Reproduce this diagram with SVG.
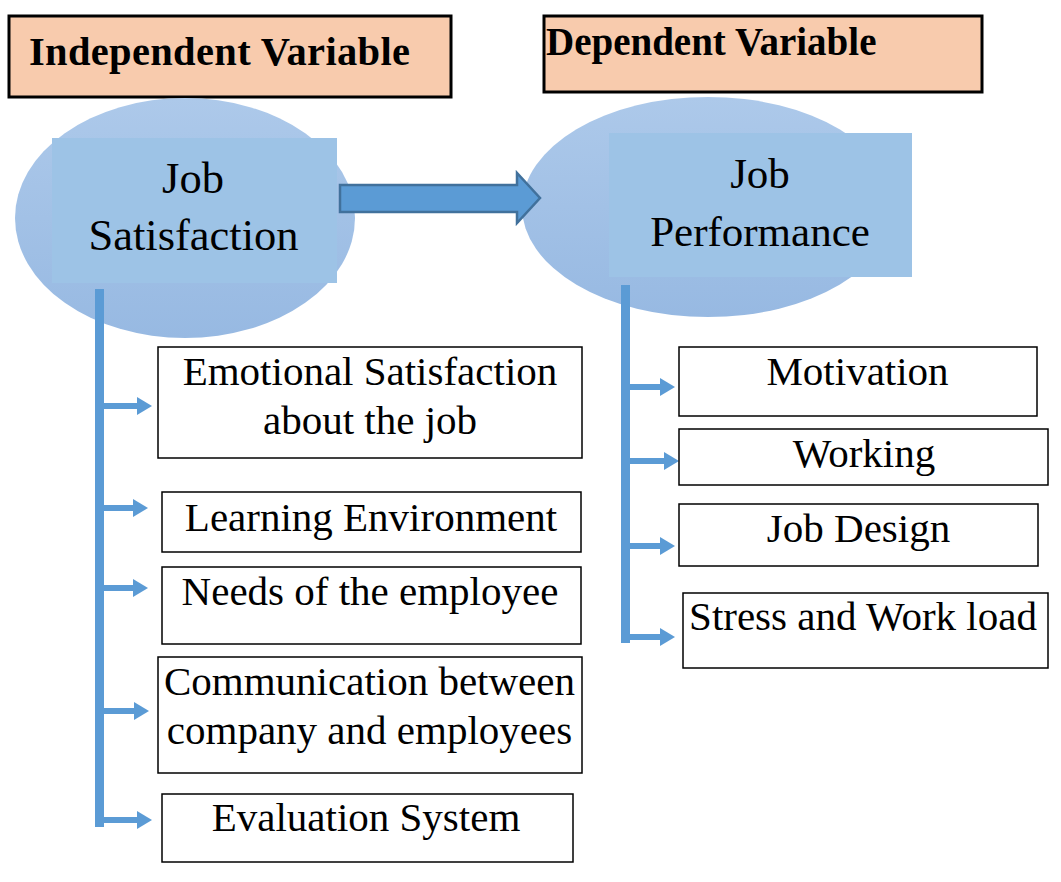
<svg xmlns="http://www.w3.org/2000/svg" width="1061" height="882" viewBox="0 0 1061 882">
<defs>
<linearGradient id="ellGrad" x1="0" y1="0" x2="0" y2="1">
<stop offset="0" stop-color="#ADC9EA"/>
<stop offset="1" stop-color="#97B9E2"/>
</linearGradient>
<marker id="head" viewBox="0 0 15 20" refX="0" refY="10" markerWidth="15" markerHeight="20" markerUnits="userSpaceOnUse" orient="auto">
<path d="M0,1 L15,10 L0,19 Z" fill="#5B9BD5"/>
</marker>
</defs>
<style>
.hdr{fill:#F8CBAD;stroke:#000;stroke-width:3}
.hdrt{font-family:"Liberation Serif","Times New Roman",serif;font-weight:bold;fill:#000}
.ell{fill:url(#ellGrad)}
.core{fill:#9DC3E6}
.coret{font-family:"Liberation Serif","Times New Roman",serif;fill:#000;text-anchor:middle}
.box{fill:#fff;stroke:#000;stroke-width:1.5}
.boxt{font-family:"Liberation Serif","Times New Roman",serif;font-size:41px;fill:#000;text-anchor:middle}
.bar{fill:#5B9BD5}
.br{stroke:#5B9BD5;stroke-width:6;fill:none;marker-end:url(#head)}
</style>
<rect width="1061" height="882" fill="#fff"/>

<g id="header-independent">
<rect class="hdr" x="9" y="16" width="442" height="81"/>
<text class="hdrt" x="29" y="65" font-size="40.5" textLength="381" lengthAdjust="spacing">Independent Variable</text>
</g>
<g id="header-dependent">
<rect class="hdr" x="544" y="16" width="438" height="76"/>
<text class="hdrt" x="546" y="55" font-size="39">Dependent Variable</text>
</g>

<g id="job-satisfaction">
<ellipse class="ell" cx="185" cy="218" rx="170" ry="120"/>
<rect class="core" x="52" y="138" width="285" height="145"/>
<text class="coret" x="193" y="193" font-size="44.5">Job</text>
<text class="coret" x="193.5" y="250" font-size="44.5">Satisfaction</text>
</g>

<g id="job-performance">
<ellipse class="ell" cx="708" cy="207" rx="186" ry="110"/>
<rect class="core" x="609" y="133" width="303" height="144"/>
<text class="coret" x="760" y="188" font-size="43">Job</text>
<text class="coret" x="760" y="246" font-size="43">Performance</text>
</g>

<g id="connectors">
<path d="M340,185 H517 V173 L540,198 L517,223 V212 H340 Z" fill="#5B9BD5" stroke="#41719C" stroke-width="2.5" stroke-linejoin="miter"/>
<rect class="bar" x="95" y="289" width="9" height="538"/>
<line class="br" x1="104" y1="406" x2="137" y2="406"/>
<line class="br" x1="104" y1="508" x2="133" y2="508"/>
<line class="br" x1="104" y1="588" x2="133" y2="588"/>
<line class="br" x1="104" y1="711" x2="134" y2="711"/>
<line class="br" x1="104" y1="820" x2="137" y2="820"/>
<rect class="bar" x="621" y="285" width="9" height="358"/>
<line class="br" x1="630" y1="387" x2="660" y2="387"/>
<line class="br" x1="630" y1="461" x2="664" y2="461"/>
<line class="br" x1="630" y1="546" x2="660" y2="546"/>
<line class="br" x1="630" y1="637" x2="660" y2="637"/>
</g>

<g id="emotional-satisfaction">
<rect class="box" x="158" y="347" width="424" height="111"/>
<text class="boxt" x="370" y="385">Emotional Satisfaction</text>
<text class="boxt" x="370" y="434">about the job</text>
</g>
<g id="learning-environment">
<rect class="box" x="162" y="492" width="419" height="60"/>
<text class="boxt" x="371" y="531">Learning Environment</text>
</g>
<g id="needs-employee">
<rect class="box" x="162" y="567" width="419" height="77"/>
<text class="boxt" x="370" y="605">Needs of the employee</text>
</g>
<g id="communication">
<rect class="box" x="158" y="657" width="424" height="116"/>
<text class="boxt" x="369.5" y="695">Communication between</text>
<text class="boxt" x="369.5" y="744">company and employees</text>
</g>
<g id="evaluation-system">
<rect class="box" x="162" y="794" width="411" height="68"/>
<text class="boxt" x="366" y="831">Evaluation System</text>
</g>

<g id="motivation">
<rect class="box" x="679" y="347" width="358" height="69"/>
<text class="boxt" x="857.5" y="385">Motivation</text>
</g>
<g id="working">
<rect class="box" x="679" y="429" width="369" height="56"/>
<text class="boxt" x="864" y="467">Working</text>
</g>
<g id="job-design">
<rect class="box" x="679" y="504" width="359" height="62"/>
<text class="boxt" x="858.5" y="542">Job Design</text>
</g>
<g id="stress-workload">
<rect class="box" x="683" y="593" width="365" height="75"/>
<text class="boxt" x="863" y="630">Stress and Work load</text>
</g>
</svg>
